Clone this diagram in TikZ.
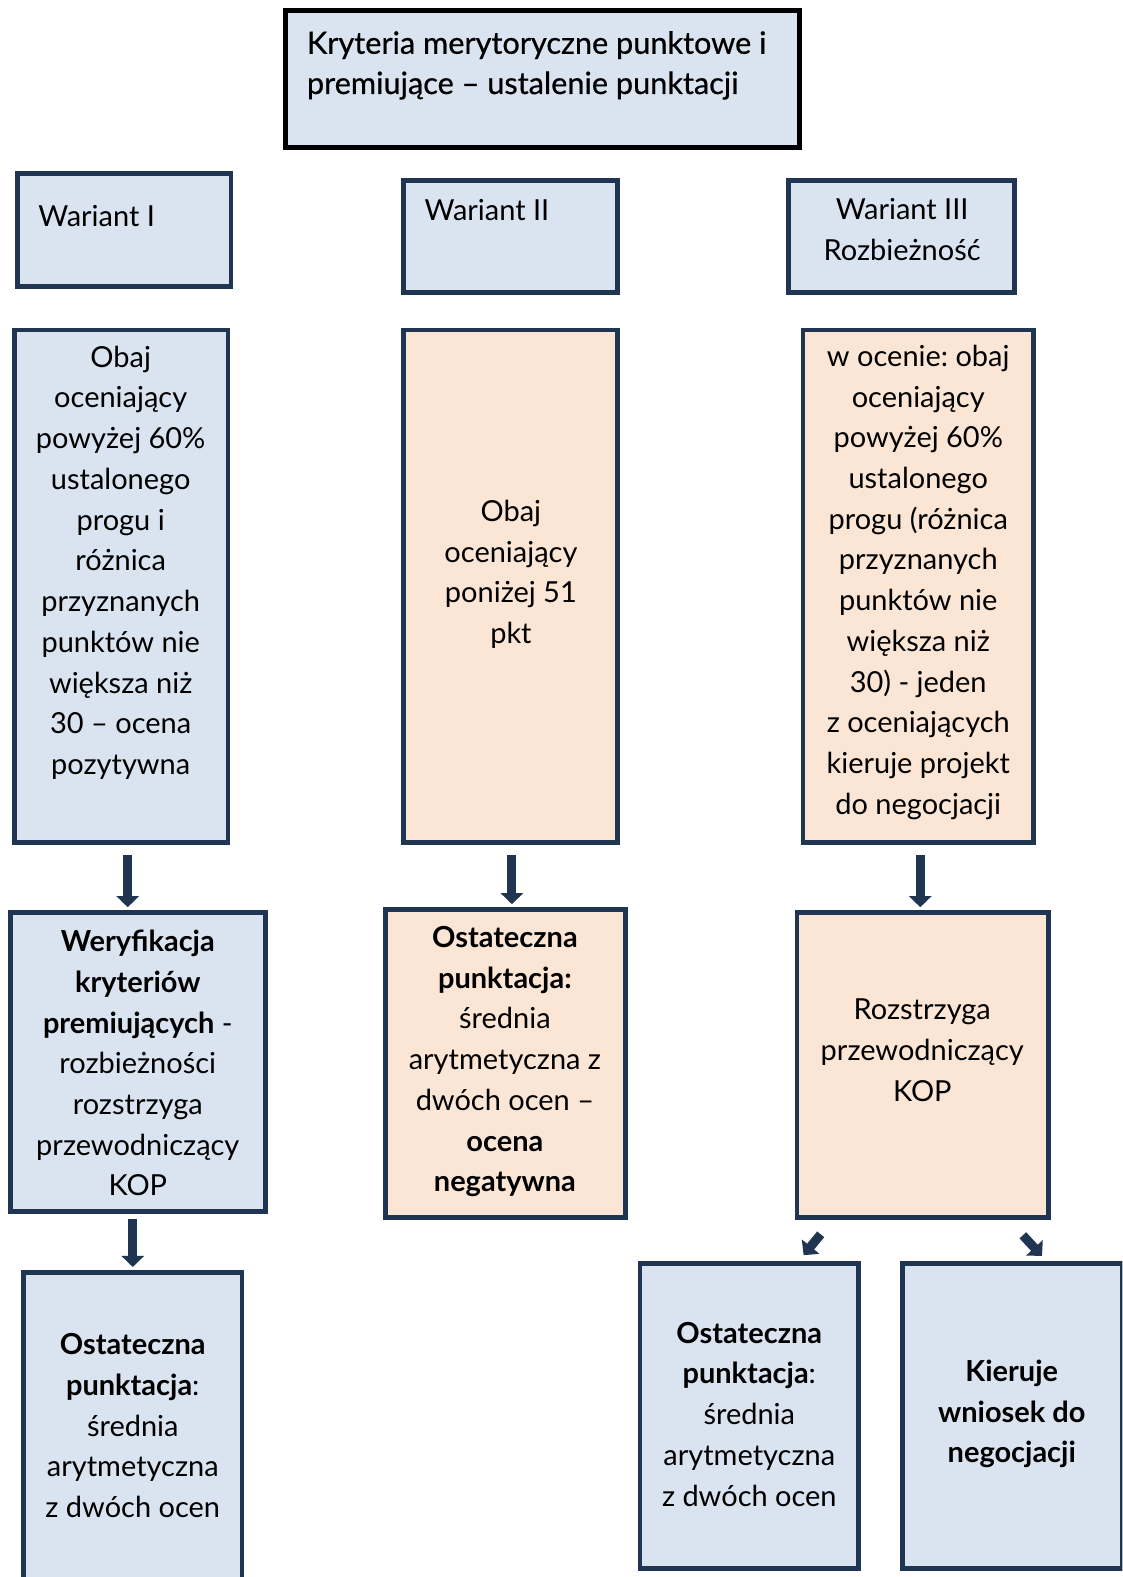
\documentclass[tikz,border=0pt]{standalone}
\usepackage{fontspec}
\setmainfont{Lato}
\newfontfamily\titlefont[FakeBold=0.6]{Lato}
\usetikzlibrary{arrows.meta,calc}
\definecolor{bfill}{RGB}{218,227,240}
\definecolor{ofill}{RGB}{251,230,214}
\definecolor{edgec}{RGB}{31,53,82}
\frenchspacing
\begin{document}
\begin{tikzpicture}[x=1pt,y=-1pt,
  bluebox/.style={draw=edgec,fill=bfill,line width=4.5pt,inner sep=0pt},
  orangebox/.style={draw=edgec,fill=ofill,line width=4.5pt,inner sep=0pt},
  titlebox/.style={draw=black,fill=bfill,line width=5pt,inner sep=0pt},
  txt/.style={font=\fontsize{28.8}{40.5}\selectfont,align=center,inner sep=0pt},
  ltxt/.style={font=\fontsize{28.8}{40.5}\selectfont,align=left,inner sep=0pt,anchor=west},
  ttxt/.style={font=\titlefont\fontsize{30.5}{40}\selectfont,align=left,inner sep=0pt,anchor=west},
  arr/.style={draw=edgec,line width=9pt,-{Triangle[width=22pt,length=11pt]}}]
\useasboundingbox (0,0) rectangle (1116,1568);
\clip (0,0) rectangle (1116,1568);
\fill[white] (0,0) rectangle (1116,1568);

% boxes
\node[titlebox,minimum width=510.5pt,minimum height=136.5pt] (T) at (539.5,78.5) {};
\node[bluebox,minimum width=212.5pt,minimum height=112.5pt] (W1) at (123.5,228.5) {};
\node[bluebox,minimum width=212.5pt,minimum height=111.5pt] (W2) at (507.5,235) {};
\node[bluebox,minimum width=224.5pt,minimum height=111.5pt] (W3) at (896.5,235) {};
\node[bluebox,minimum width=212.5pt,minimum height=509.5pt] (A) at (120.5,583) {};
\node[orangebox,minimum width=212.5pt,minimum height=509.5pt] (B) at (507.5,583) {};
\node[orangebox,minimum width=229.5pt,minimum height=509.5pt] (C) at (913,583) {};
\node[bluebox,minimum width=253.5pt,minimum height=297.5pt] (D) at (137,1056) {};
\node[orangebox,minimum width=238.5pt,minimum height=306.5pt] (E) at (502.5,1057.5) {};
\node[orangebox,minimum width=250.5pt,minimum height=303.5pt] (F) at (917.5,1059) {};
\node[bluebox,minimum width=217.5pt,minimum height=320pt] (G) at (132,1425) {};
\node[bluebox,minimum width=217.5pt,minimum height=303.5pt] (H) at (745,1408) {};
\node[bluebox,minimum width=218.5pt,minimum height=303.5pt] (I) at (1006.5,1408) {};

% texts
\node[ttxt] (tT) at (305,65) {Kryteria merytoryczne punktowe i\\premiujące – ustalenie punktacji};
\node[ltxt] (tW1) at (38,215) {Wariant I};
\node[ltxt] (tW2) at (422,209) {Wariant II};
\node[txt] (tW3) at (897,228.5) {Wariant III\\Rozbieżność};
\node[txt] (tA) at (120,559.5) {Obaj\\oceniający\\powyżej 60\%\\ustalonego\\progu i\\różnica\\przyznanych\\punktów nie\\większa niż\\30 – ocena\\pozytywna};
\node[txt] (tB) at (508,571) {Obaj\\oceniający\\poniżej 51\\pkt};
\node[txt] (tC) at (913,579) {w ocenie: obaj\\oceniający\\powyżej 60\%\\ustalonego\\progu (różnica\\przyznanych\\punktów nie\\większa niż\\30) - jeden\\z oceniających\\kieruje projekt\\do negocjacji};
\node[txt] (tD) at (137,1057) {\textbf{Weryfikacja}\\\textbf{kryteriów}\\\textbf{premiujących} -\\rozbieżności\\rozstrzyga\\przewodniczący\\KOP};
\node[txt] (tE) at (502,1055.5) {\textbf{Ostateczna}\\\textbf{punktacja:}\\średnia\\arytmetyczna z\\dwóch ocen –\\\textbf{ocena}\\\textbf{negatywna}};
\node[txt] (tF) at (917,1044) {Rozstrzyga\\przewodniczący\\KOP};
\node[txt] (tG) at (132,1417.5) {\textbf{Ostateczna}\\\textbf{punktacja}:\\średnia\\arytmetyczna\\z dwóch ocen};
\node[txt] (tH) at (745,1406) {\textbf{Ostateczna}\\\textbf{punktacja}:\\średnia\\arytmetyczna\\z dwóch ocen};
\node[txt] (tI) at (1006,1406) {\textbf{Kieruje}\\\textbf{wniosek do}\\\textbf{negocjacji}};

% arrows
\draw[arr] ($(A.south)+(6.5,10.25)$) -- ($(D.north)+(-10,-3)$);
\draw[arr] ($(D.south)+(-5,5)$) -- ($(G.north)+(0,-3)$);
\draw[arr] ($(B.south)+(1.5,10)$) -- ($(E.north)+(6.5,-3)$);
\draw[arr] ($(C.south)+(2,10)$) -- ($(F.north)+(-2.5,-3)$);
\draw[arr] ($(F.south)+(-101.5,14.25)$) -- ($(H.north)+(54,-6)$);
\draw[arr] ($(F.south)+(99.5,15.25)$) -- ($(I.north)+(29.5,-5.25)$);
\end{tikzpicture}
\end{document}
